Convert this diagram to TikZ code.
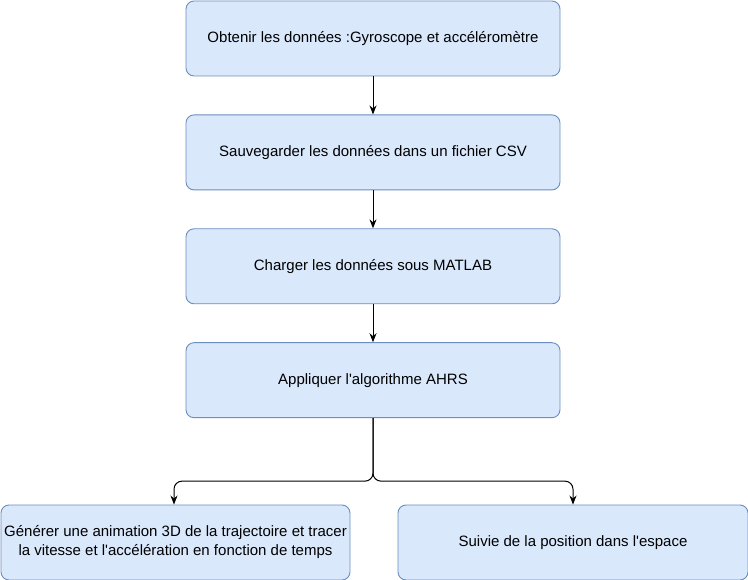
\documentclass[tikz,border=0pt]{standalone}
\usepackage{fontspec}
\setmainfont{Liberation Sans}
\usetikzlibrary{arrows.meta, positioning}

\definecolor{boxfill}{HTML}{DAE8FC}
\definecolor{boxline}{HTML}{6C8EBF}

\begin{document}
\begin{tikzpicture}[
        node distance=38pt,
        every node/.style={font=\fontsize{15pt}{19pt}\selectfont},
        etape/.style={draw=boxline, fill=boxfill, rounded corners=8pt, line width=0.9pt,
            minimum width=374pt, minimum height=75pt, align=center, inner sep=2pt},
        arrow/.style={-{Stealth[length=9pt, width=7pt]}, line width=1pt}
    ]

    \useasboundingbox (0,0) rectangle (748pt,-580pt);

    \node[etape] (obtenir) at (373pt,-38.5pt) {Obtenir les données :Gyroscope et accéléromètre};
    \node[etape] (sauver) [below=of obtenir] {Sauvegarder les données dans un fichier CSV};
    \node[etape] (charger) [below=of sauver] {Charger les données sous MATLAB};
    \node[etape] (ahrs) [below=of charger] {Appliquer l\textquotesingle algorithme AHRS};

    \node[etape, minimum width=349pt] (generer) at (175.5pt,-542.5pt)
        {Générer une animation 3D de la trajectoire et tracer\\la vitesse et l\textquotesingle accélération en fonction de temps};
    \node[etape, minimum width=350pt] (suivie) at (573pt,-542.5pt)
        {Suivie de la position dans l\textquotesingle espace};

    \coordinate (split) at ([yshift=-63pt]ahrs.south);

    \draw[arrow] (obtenir) -- (sauver);
    \draw[arrow] (sauver) -- (charger);
    \draw[arrow] (charger) -- (ahrs);

    \draw[arrow, rounded corners=8pt] (ahrs.south) -- (split) -| ([xshift=-1.5pt]generer.north);
    \draw[arrow, rounded corners=8pt] (ahrs.south) -- (split) -| (suivie.north);
    \end{tikzpicture}
\end{document}
